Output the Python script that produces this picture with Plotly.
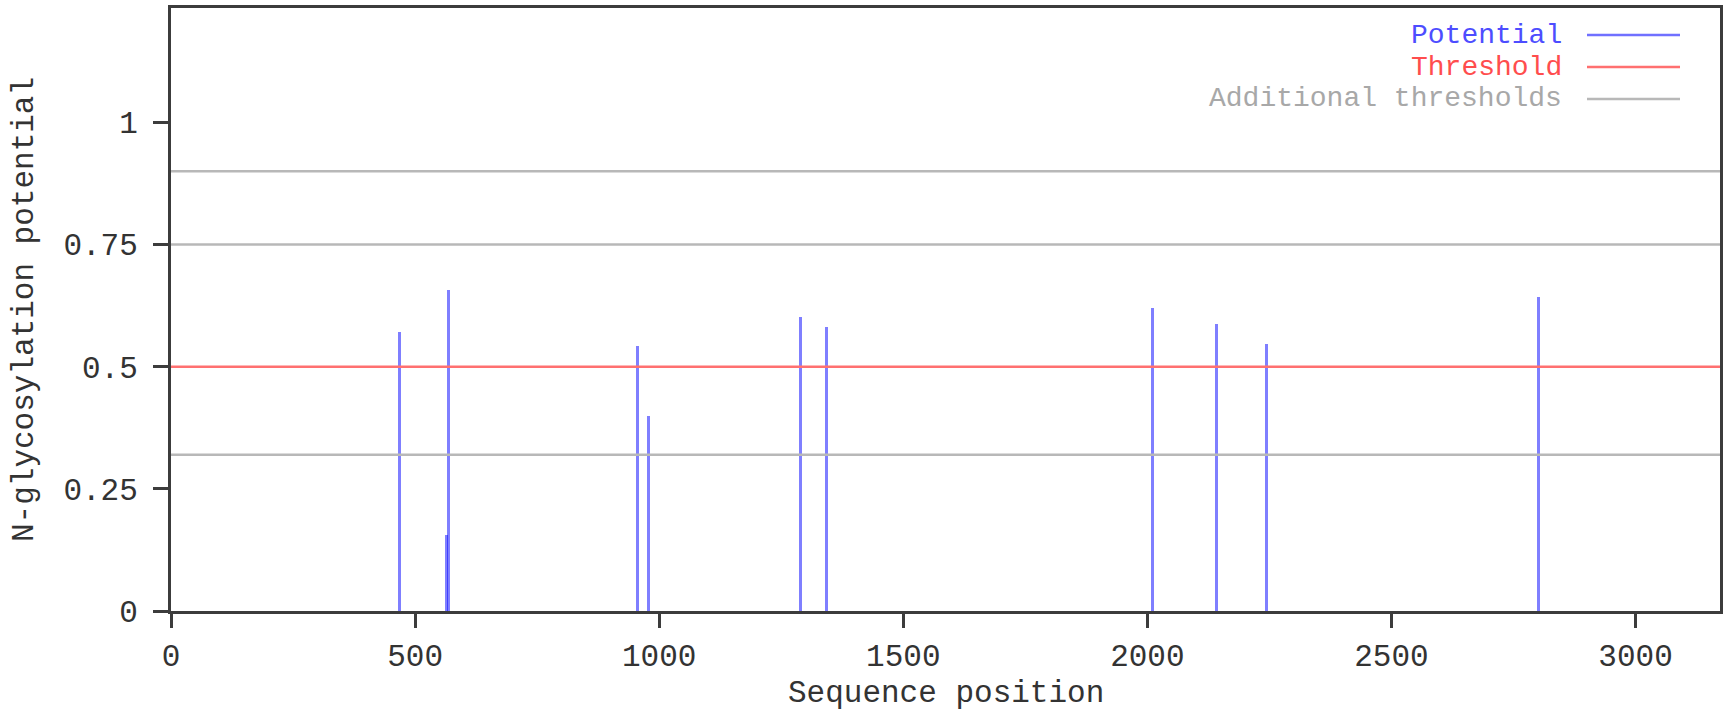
import plotly.graph_objects as go

# ---- data ----
site_positions = [468, 565, 569, 955, 978, 1290, 1342, 2010, 2142, 2244, 2802]
site_potentials = [0.571, 0.155, 0.657, 0.542, 0.399, 0.601, 0.581, 0.621, 0.587, 0.547, 0.643]
threshold = 0.5
additional_thresholds = [0.32, 0.75, 0.9]
sequence_length = 3173
x_tick_values = [0, 500, 1000, 1500, 2000, 2500, 3000]
y_tick_values = [0, 0.25, 0.5, 0.75, 1]
y_tick_labels = ["0", "0.25", "0.5", "0.75", "1"]
legend_labels = ["Potential", "Threshold", "Additional thresholds"]
x_title = "Sequence position"
y_title = "N-glycosylation potential"

FONT = "Liberation Mono"
FS = 31
LEGEND_FS = 28
AXIS_COLOR = "#3c3c3c"
TEXT_COLOR = "#333333"
BLUE_LINE = "rgba(0,0,255,0.5)"
RED_LINE = "#ff7070"
GRAY_LINE = "#b8b8b8"
text_colors = ["#4d4dff", "#ff4d4d", "#a8a8a8"]
line_colors = ["#7070ff", RED_LINE, GRAY_LINE]

fig = go.Figure()

# potential impulses
fig.add_trace(go.Bar(
    x=site_positions, y=site_potentials, width=6,
    marker=dict(color=BLUE_LINE, line=dict(width=0)),
    showlegend=False, hoverinfo="x+y",
))

# additional thresholds
for t in additional_thresholds:
    fig.add_trace(go.Scatter(
        x=[0, sequence_length], y=[t, t], mode="lines",
        line=dict(color=GRAY_LINE, width=2.5), showlegend=False, hoverinfo="skip",
    ))

# threshold
fig.add_trace(go.Scatter(
    x=[0, sequence_length], y=[threshold, threshold], mode="lines",
    line=dict(color=RED_LINE, width=2.5), showlegend=False, hoverinfo="skip",
))

L, R, T, B = 171, 9, 8, 102
W, H = 1729, 713
pw, ph = W - L - R, H - T - B
def px_to_paper_x(px):
    return (px - L) / pw
def px_to_paper_y(py):
    return (H - B - py) / ph

# custom legend (right-aligned text followed by line sample)
row_y = [35.0, 67.0, 99.0]
annotations = []
shapes = []
for label, ty, tc, lc in zip(legend_labels, row_y, text_colors, line_colors):
    annotations.append(dict(
        text=label, xref="paper", yref="paper",
        x=px_to_paper_x(1563), y=px_to_paper_y(ty),
        xanchor="right", yanchor="middle", showarrow=False,
        borderpad=0, valign="middle",
        font=dict(family=FONT, size=LEGEND_FS, color=tc),
    ))
    shapes.append(dict(
        type="line", xref="paper", yref="paper",
        x0=px_to_paper_x(1587), x1=px_to_paper_x(1680),
        y0=px_to_paper_y(ty), y1=px_to_paper_y(ty),
        line=dict(color=lc, width=2.5),
    ))

# x-axis title near the bottom edge
annotations.append(dict(
    text=x_title, xref="paper", yref="paper",
    x=0.5, y=px_to_paper_y(712), xanchor="center", yanchor="bottom",
    borderpad=0,
    showarrow=False, font=dict(family=FONT, size=FS, color=TEXT_COLOR),
))

fig.update_layout(
    width=W, height=H,
    margin=dict(l=L, r=R, t=T, b=B, pad=0, autoexpand=False),
    paper_bgcolor="white", plot_bgcolor="white",
    bargap=0, showlegend=False,
    annotations=annotations, shapes=shapes,
    font=dict(family=FONT, size=FS, color=TEXT_COLOR),
)

fig.update_xaxes(
    range=[0, sequence_length], tickvals=x_tick_values,
    ticktext=[str(v) for v in x_tick_values],
    showline=True, mirror=True, linecolor=AXIS_COLOR, linewidth=3,
    ticks="outside", ticklen=14, tickwidth=2.5, tickcolor=AXIS_COLOR,
    showgrid=False, zeroline=False, automargin=False,
    tickfont=dict(family=FONT, size=FS, color=TEXT_COLOR),
    ticklabelstandoff=1,
)
fig.update_yaxes(
    range=[0, 1.234], tickvals=y_tick_values, ticktext=y_tick_labels,
    showline=True, mirror=True, linecolor=AXIS_COLOR, linewidth=3,
    ticks="outside", ticklen=15, tickwidth=2.5, tickcolor=AXIS_COLOR,
    showgrid=False, zeroline=False, automargin=False,
    tickfont=dict(family=FONT, size=FS, color=TEXT_COLOR),
    ticklabelstandoff=9,
    title=dict(text=y_title, standoff=21,
               font=dict(family=FONT, size=FS, color=TEXT_COLOR)),
)

fig.write_html("out.html")
